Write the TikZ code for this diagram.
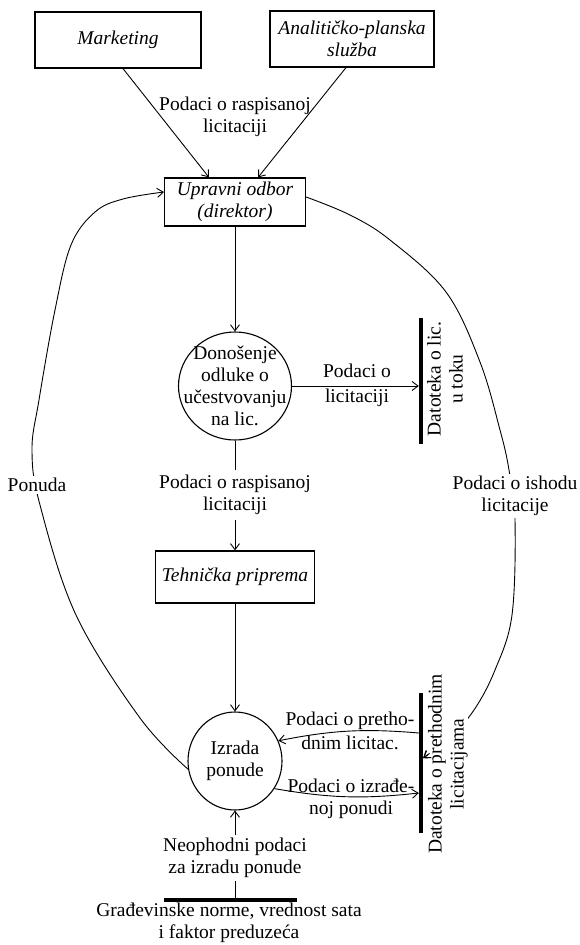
\documentclass[tikz,border=0pt]{standalone}
\usepackage{fontspec}
\setmainfont{Liberation Serif}
\usetikzlibrary{arrows.meta,shapes.geometric}
\begin{document}
\begin{tikzpicture}[x=1pt,y=-1pt,
  every node/.style={font=\fontsize{19.5}{22}\selectfont, align=center, inner sep=0pt},
  box/.style={draw, line width=1.2pt, font=\fontsize{19.5}{22}\selectfont\itshape},
  proc/.style={draw, ellipse, line width=1.1pt},
  store/.style={fill=black, draw=none},
  flow/.style={line width=0.9pt, -{Straight Barb[length=6pt,width=9pt,line width=0.9pt]}},
  link/.style={line width=0.9pt},
  lbl/.style={fill=white}]
\useasboundingbox (0,0) rectangle (579,945);

% boxes
\node[box, minimum width=166pt, minimum height=56pt] (mk) at (118,40) {Marketing};
\node[box, minimum width=164pt, minimum height=56pt] (an) at (352,39) {Analitičko-planska\\služba};
\node[box, minimum width=141pt, minimum height=48pt] (uo) at (235,202) {Upravni odbor\\(direktor)};
\node[box, minimum width=159pt, minimum height=52pt] (tp) at (235,577) {Tehnička priprema};

% processes
\node[proc, minimum width=113pt, minimum height=108pt] (dn) at (235,386) {};
\node (dntxt) at (dn.center) {Donošenje\\odluke o\\učestvovanju\\na lic.};
\node[proc, minimum width=94pt, minimum height=98pt] (izr) at (235,761) {};
\node (izrtxt) at (izr.center) {Izrada\\ponude};

% stores
\node[store, minimum width=4pt, minimum height=126pt] (b1) at (421,381) {};
\node[rotate=90] (b1txt) at (445,379) {Datoteka o lic.\\u toku};
\node[store, minimum width=4pt, minimum height=140pt] (b2) at (421,763) {};
\node[store, minimum width=133pt, minimum height=3.5pt] (b3) at (230,900) {};
\node (b3txt) at (229,923) {Građevinske norme, vrednost sata\\i faktor preduzeća};

% helper coordinates
\coordinate (uoin) at ([yshift=10pt]uo.west);
\coordinate (uoout) at ([yshift=5pt]uo.east);
\coordinate (ishend) at ([yshift=5pt]b2.east);
\coordinate (ishpre) at (429.5,753.4);

% connectors
\draw[flow] ([xshift=5pt]mk.south) -- ([xshift=-26pt]uo.north);
\draw[flow] ([xshift=-6pt]an.south) -- ([xshift=23pt]uo.north);
\node (l1) at (235,117) {Podaci o raspisanoj\\licitaciji};

\draw[flow] (uo.south) -- (dn.north);
\draw[flow] (dn.east) -- (b1.west |- dn.east);
\node (l2) at (357,385) {Podaci o\\[3pt]licitaciji};

\draw[flow] (dn.south) -- (tp.north);
\draw[flow] (tp.south) -- (izr.north);

\draw[flow] ([yshift=30pt]b2.west) to[bend right=8] (izr.25);
\node (l4) at (350,730.5) {Podaci o pretho-\\[2pt]dnim licitac.};
\draw[flow] (izr.-35) to[bend right=8] ([yshift=-30pt]b2.west);
\node (l5) at (351,799) {Podaci o izrađe-\\noj ponudi};

\draw[flow] (b3.north -| izr.south) -- (izr.south);

\draw[flow] plot[smooth, tension=0.6] coordinates {(izr.190) (140,718) (76,615) (40,505) (32,450) (39,400) (55,310) (71,245) (95,212) (123,199) (uoin)};
\draw[flow] plot[smooth, tension=0.6] coordinates {(uoout) (350,215) (390,240) (446,292) (480,362) (500,430) (509,470) (515,520) (512,615) (495,670) (474,710) (448,740) (ishend)};

% labels that hide the lines behind them
\node[lbl, inner xsep=2pt, inner ysep=5pt] (l3) at (235,495) {Podaci o raspisanoj\\licitaciji};
\node[lbl, inner xsep=2pt, inner ysep=3pt] (l6) at (235,858) {Neophodni podaci\\za izradu ponude};
\node[lbl, inner sep=2pt] (l7) at (37,485) {Ponuda};
\node[lbl, inner sep=2pt] (l8) at (515,496) {Podaci o ishodu\\licitacije};
\node[rotate=90, lbl] (b2txt) at (448,764) {Datoteka o prethodnim\\licitacijama};
\draw[flow] (ishpre) -- (ishend);
\end{tikzpicture}
\end{document}
